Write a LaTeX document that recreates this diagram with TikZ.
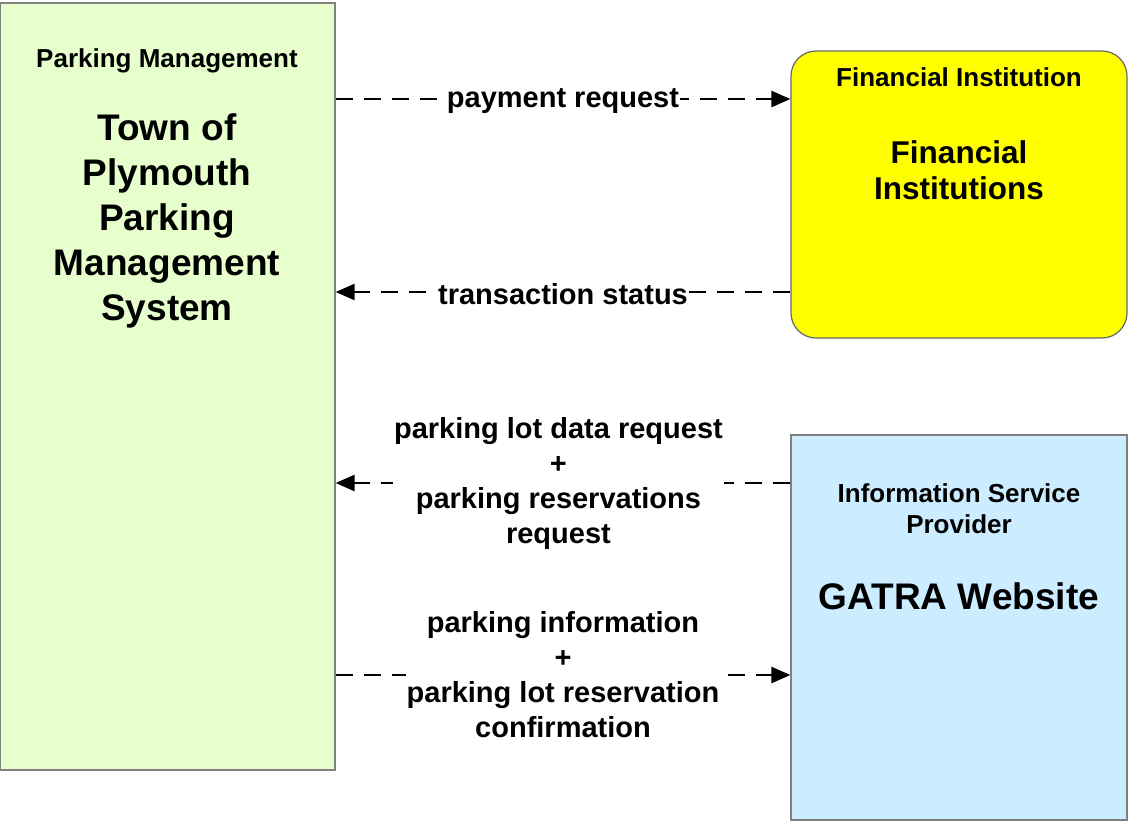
\documentclass[tikz,border=0pt]{standalone}
\usepackage{fontspec}
\setmainfont{Liberation Sans}
\usepackage{tikz}
\usetikzlibrary{arrows.meta}
\definecolor{pmgreen}{RGB}{230,255,204}
\definecolor{ispblue}{RGB}{204,236,255}
\definecolor{finyellow}{RGB}{255,255,0}
\tikzset{>={Triangle[length=19pt,width=16pt]}}
\tikzset{box/.style = {shape=rectangle,draw=gray,line width=1.2pt,inner sep=0pt}}
\tikzset{head/.style = {font=\bfseries\fontsize{26}{31}\selectfont,align=center}}
\tikzset{title/.style = {font=\bfseries\fontsize{37}{45}\selectfont,align=center}}
\tikzset{flow/.style = {line width=2.4pt,dash pattern=on 17pt off 11pt}}
\tikzset{lbl/.style = {fill=white,inner sep=1pt,font=\bfseries\fontsize{29}{35}\selectfont,align=center}}

\begin{document}
\begin{tikzpicture}[x=1pt,y=-1pt]
                    \useasboundingbox (0,0) rectangle (1128,820);

                    \node[box,fill=pmgreen,minimum width=335pt,minimum height=767pt] (pm) at (167.5,386.5) {};
                    \node[box,fill=finyellow,draw=black!60,rounded corners=25pt,minimum width=336pt,minimum height=287pt] (fin) at (959,194.5) {};
                    \node[box,fill=ispblue,minimum width=336pt,minimum height=385pt] (isp) at (959,627.5) {};

                    \node[head] (pmhead) at (167,61) {Parking Management};
                    \node[title] (pmname) at (167,221) {Town of\\Plymouth\\Parking\\Management\\System};
                    \node[head] (finhead) at (959,77) {Financial Institution};
                    \node[title,font=\bfseries\fontsize{31.5}{36}\selectfont] (finname) at (959,170) {Financial\\Institutions};
                    \node[head] (isphead) at (959,509) {Information Service\\Provider};
                    \node[title] (ispname) at (959,596) {GATRA Website};

                    \coordinate (y1) at (0,99);
                    \coordinate (y2) at (0,292);
                    \coordinate (y3) at (0,483);
                    \coordinate (y4) at (0,675);

                    \draw[flow,->] (pm.east |- y1) -- node[lbl,yshift=-2pt] {payment request} (fin.west |- y1);
                    \draw[flow,->] (fin.west |- y2) -- node[lbl,yshift=-2pt] {transaction status} (pm.east |- y2);
                    \draw[flow,->] (isp.west |- y3) -- node[lbl,pos=0.51] {parking lot data request\\+\\parking reservations\\request} (pm.east |- y3);
                    \draw[flow,->] (pm.east |- y4) -- node[lbl,pos=0.5] {parking information\\+\\parking lot reservation\\confirmation} (isp.west |- y4);
                \end{tikzpicture}
\end{document}
